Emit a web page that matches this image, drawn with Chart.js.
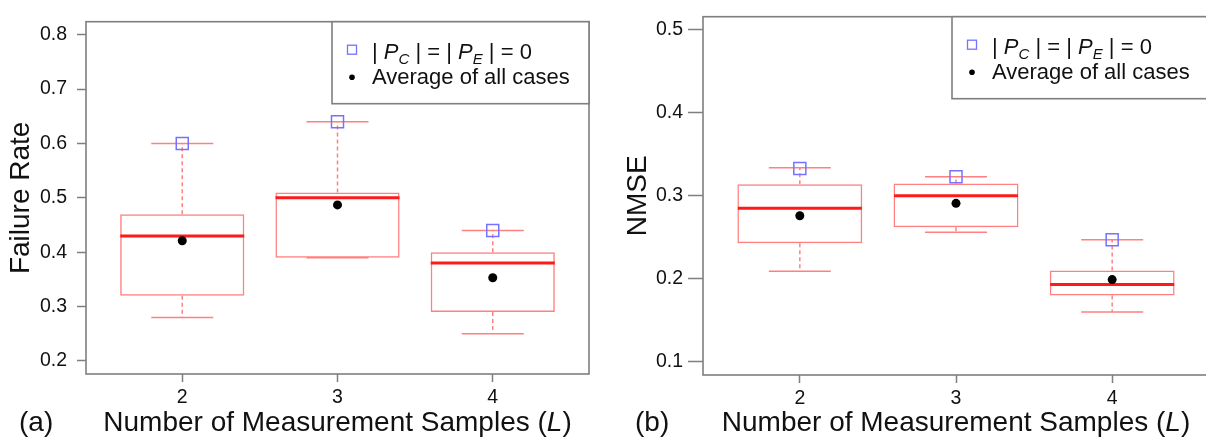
<!DOCTYPE html>
<html>
<head>
<meta charset="utf-8">
<script src="https://cdn.jsdelivr.net/npm/chart.js@4.4.0/dist/chart.umd.min.js"></script>
<style>
  html, body { margin: 0; padding: 0; background: #fff; }
  #wrap { position: relative; width: 1206px; height: 441px; overflow: hidden; }
  .panel { position: absolute; top: 0; height: 441px; overflow: hidden; }
</style>
</head>
<body>
<div id="wrap">
  <div class="panel" style="left:0;width:600px"><canvas id="chartA" width="600" height="441"></canvas></div>
  <div class="panel" style="left:600px;width:606px"><canvas id="chartB" width="620" height="441"></canvas></div>
</div>
<script>
// number of measurement samples (L)
const samples = [2, 3, 4];

// (a) failure rate box stats
const failLow    = [0.28, 0.39, 0.25];
const failQ1     = [0.32, 0.39, 0.29];
const failMedian = [0.43, 0.50, 0.38];
const failQ3     = [0.47, 0.51, 0.40];
const failHigh   = [0.60, 0.64, 0.44];
const failMean   = [0.421, 0.487, 0.353];
const failZero   = [0.60, 0.64, 0.44];   // |Pc| = |Pe| = 0

// (b) NMSE box stats
const nmseLow    = [0.209, 0.256, 0.160];
const nmseQ1     = [0.243, 0.262, 0.180];
const nmseMedian = [0.285, 0.300, 0.193];
const nmseQ3     = [0.314, 0.315, 0.210];
const nmseHigh   = [0.334, 0.323, 0.247];
const nmseMean   = [0.276, 0.291, 0.199];
const nmseZero   = [0.333, 0.323, 0.247];

const failTicks = [0.2, 0.3, 0.4, 0.5, 0.6, 0.7, 0.8];
const nmseTicks = [0.1, 0.2, 0.3, 0.4, 0.5];

const FONT = "'Liberation Sans', Arial, sans-serif";
const frameColor = '#7f7f7f';
const boxColor = '#ff8080';
const medColor = '#ff1a1a';
const zeroColor = '#7373ff';
const textColor = '#111';

// R-style axis range: limits stretched by 4% each side
function ext(lo, hi) {
  const d = (hi - lo) * 0.04;
  return [lo - d, hi + d];
}

function boxDatasets(low, q1, med, q3, high, mean, zero) {
  const pts = arr => samples.map((x, i) => ({ x, y: arr[i] }));
  const whiskers = [];
  samples.forEach((x, i) => {
    whiskers.push({ x, y: q3[i] }, { x, y: high[i] }, { x, y: null });
    whiskers.push({ x, y: q1[i] }, { x, y: low[i] }, { x, y: null });
  });
  const caps = samples.flatMap((x, i) => [{ x, y: low[i] }, { x, y: high[i] }]);
  // first dataset is drawn on top
  return [
    { type: 'line', data: pts(zero), showLine: false, pointStyle: 'rect', pointRadius: 8.5,
      pointBackgroundColor: 'rgba(0,0,0,0)', pointBorderColor: zeroColor, pointBorderWidth: 1.5 },
    { type: 'line', data: pts(mean), showLine: false, pointStyle: 'circle', pointRadius: 4.5,
      pointBackgroundColor: '#000', pointBorderWidth: 0 },
    { type: 'line', data: pts(med), showLine: false, pointStyle: 'line', pointRadius: 62,
      pointBorderColor: medColor, pointBorderWidth: 3 },
    { type: 'line', data: caps, showLine: false, pointStyle: 'line', pointRadius: 31,
      pointBorderColor: boxColor, pointBorderWidth: 1.5 },
    { type: 'line', data: whiskers, borderColor: boxColor, borderWidth: 1.5, borderDash: [4, 3],
      pointRadius: 0, spanGaps: false },
    { type: 'bar', data: samples.map((x, i) => ({ x, y: [q1[i], q3[i]] })),
      backgroundColor: 'rgba(0,0,0,0)', borderColor: boxColor, borderWidth: 1.5,
      borderSkipped: false, barPercentage: 0.8, categoryPercentage: 1.0 }
  ];
}

function drawParts(ctx, x, y, parts) {
  for (const p of parts) {
    ctx.font = p.font;
    ctx.fillText(p.text, x, y + (p.dy || 0));
    x += ctx.measureText(p.text).width;
  }
}

function partsWidth(ctx, parts) {
  let w = 0;
  for (const p of parts) { ctx.font = p.font; w += ctx.measureText(p.text).width; }
  return w;
}

// frame, legend box and x title drawn around the plot area
function decor(tag, tagX) {
  return {
    id: 'decor',
    afterDraw(chart) {
      const ctx = chart.ctx;
      const a = chart.chartArea;
      ctx.save();
      ctx.strokeStyle = frameColor;
      ctx.lineWidth = 1.6;
      ctx.strokeRect(a.left, a.top, a.right - a.left, a.bottom - a.top);

      // legend
      const lw = 257, lh = 82;
      const lx = a.right - lw, ly = a.top;
      ctx.fillStyle = '#fff';
      ctx.fillRect(lx, ly, lw, lh);
      ctx.strokeRect(lx, ly, lw, lh);
      ctx.strokeStyle = zeroColor;
      ctx.lineWidth = 1.3;
      ctx.strokeRect(lx + 20 - 4.5, ly + 28 - 4.5, 9, 9);
      ctx.fillStyle = '#000';
      ctx.beginPath();
      ctx.arc(lx + 20, ly + 55.5, 2.8, 0, Math.PI * 2);
      ctx.fill();

      ctx.fillStyle = textColor;
      ctx.textAlign = 'left';
      ctx.textBaseline = 'alphabetic';
      const n = '22px ' + FONT, it = 'italic 22px ' + FONT, sub = 'italic 15px ' + FONT;
      drawParts(ctx, lx + 40, ly + 37, [
        { text: '| ', font: n }, { text: 'P', font: it }, { text: 'C', font: sub, dy: 5 },
        { text: ' | = | ', font: n }, { text: 'P', font: it }, { text: 'E', font: sub, dy: 5 },
        { text: ' | = 0', font: n }
      ]);
      drawParts(ctx, lx + 40, ly + 62, [{ text: 'Average of all cases', font: n }]);

      // x axis title
      const tf = '28px ' + FONT, ti = 'italic 28px ' + FONT;
      const title = [
        { text: 'Number of Measurement Samples (', font: tf },
        { text: 'L', font: ti }, { text: ')', font: tf }
      ];
      const tw = partsWidth(ctx, title);
      drawParts(ctx, (a.left + a.right) / 2 - tw / 2, 431, title);
      drawParts(ctx, tagX, 431, [{ text: tag, font: tf }]);
      ctx.restore();
    }
  };
}

function makeChart(id, datasets, yLim, yTicks, yTitle, dims, tag) {
  const [xMin, xMax] = ext(1.5, 4.5);
  const [yMin, yMax] = ext(yLim[0], yLim[1]);
  return new Chart(document.getElementById(id), {
    type: 'bar',
    data: { datasets },
    options: {
      responsive: false,
      animation: false,
      events: [],
      layout: { autoPadding: false, padding: { top: dims.top, right: dims.right, left: 0, bottom: 0 } },
      plugins: { legend: { display: false }, tooltip: { enabled: false } },
      scales: {
        x: {
          type: 'linear', min: xMin, max: xMax, offset: false,
          afterBuildTicks: s => { s.ticks = samples.map(v => ({ value: v })); },
          afterFit: s => { s.height = dims.xHeight; },
          ticks: { callback: v => String(v), font: { family: FONT, size: 19.5 }, color: textColor,
                   padding: 4, maxRotation: 0, autoSkip: false },
          grid: { drawOnChartArea: false, tickLength: 8, tickColor: frameColor, tickWidth: 1.5, offset: false },
          border: { display: false }
        },
        y: {
          min: yMin, max: yMax, beginAtZero: false,
          afterBuildTicks: s => { s.ticks = yTicks.map(v => ({ value: v })); },
          afterFit: s => { s.width = dims.yWidth; },
          ticks: { callback: v => v.toFixed(1), font: { family: FONT, size: 19.5 }, color: textColor,
                   padding: dims.tickPad },
          grid: { drawOnChartArea: false, tickLength: dims.tickLen, tickColor: frameColor, tickWidth: 1.5 },
          border: { display: false },
          title: { display: true, text: yTitle, color: textColor,
                   font: { family: FONT, size: 28 }, padding: { top: dims.titlePad, bottom: 0 } }
        }
      }
    },
    plugins: [decor(tag, dims.tagX)]
  });
}

makeChart('chartA',
  boxDatasets(failLow, failQ1, failMedian, failQ3, failHigh, failMean, failZero),
  [0.2, 0.8], failTicks, 'Failure Rate',
  { top: 11, right: 11, xHeight: 67, yWidth: 86, tickLen: 9, tickPad: 10, titlePad: 4, tagX: 19 },
  '(a)');

makeChart('chartB',
  boxDatasets(nmseLow, nmseQ1, nmseMedian, nmseQ3, nmseHigh, nmseMean, nmseZero),
  [0.1, 0.5], nmseTicks, 'NMSE',
  { top: 6, right: 11, xHeight: 66, yWidth: 103, tickLen: 15, tickPad: 5, titlePad: 21, tagX: 35 },
  '(b)');
</script>
</body>
</html>
